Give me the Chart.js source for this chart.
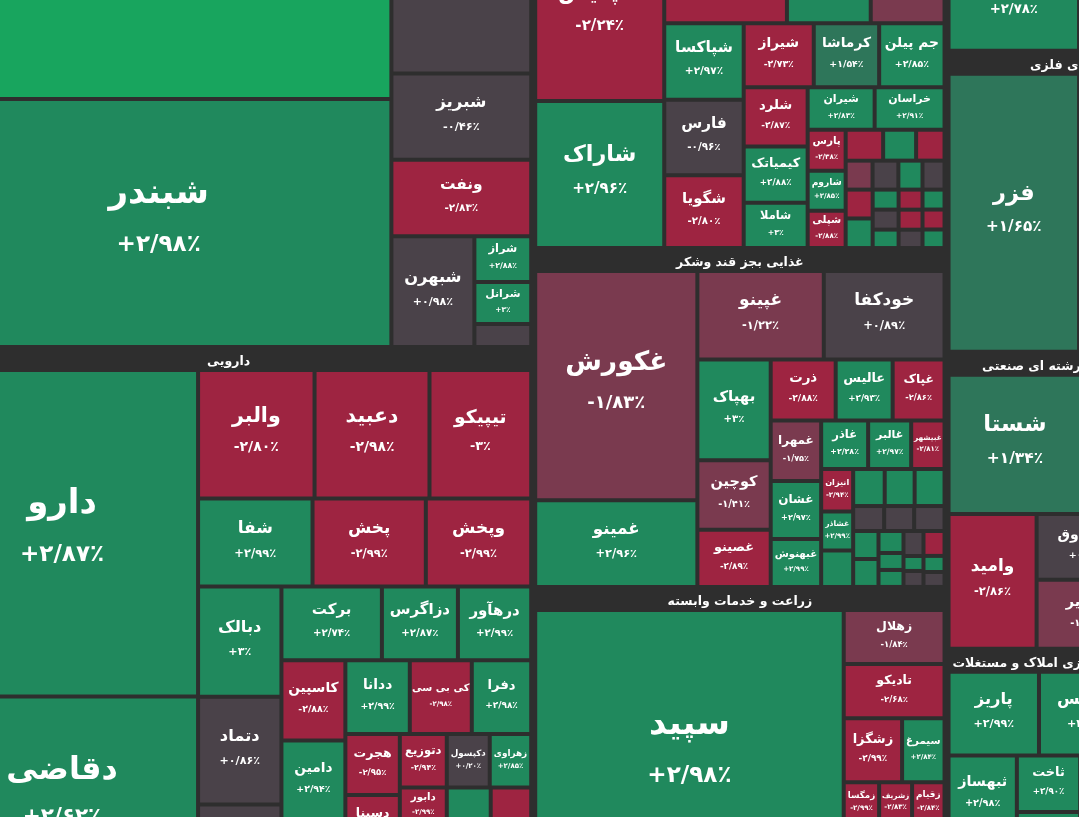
<!DOCTYPE html>
<html lang="fa">
<head>
<meta charset="utf-8">
<title>نقشه بازار</title>
<script src="https://cdn.jsdelivr.net/npm/chart.js@4.4.1/dist/chart.umd.min.js"></script>
<style>
  html, body { margin: 0; padding: 0; background: #2e2e2e; overflow: hidden; }
  #box { position: relative; width: 1079px; height: 817px; }
</style>
</head>
<body>
<div id="box"><canvas id="map"></canvas></div>
<script>
// tile data per industry: name, daily change (%), size of the tile (market value)
// null name = ticker not readable / outside the visible window

// فرآورده های نفتی
const refineryNames  = [null, 'شبندر', null, 'شبریز', 'ونفت', 'شبهرن', 'شراز', 'شرانل', null];
const refineryChange = [3.5, 2.98, 0.3, -0.46, -2.83, 0.98, 2.88, 3, 0.4];
const refineryValue  = [1435, 1156, 395.5, 121, 107, 92, 26, 24, 13];

// دارویی
const pharmaNames  = ['دارو', 'دقاضی', 'والبر', 'دعبید', 'تیپیکو', 'شفا', 'پخش', 'وپخش', 'دبالک', 'دتماد', null,
  'برکت', 'دزاگرس', 'درهآور', 'کاسپین', 'دامین', null, 'ددانا', 'کی بی سی', 'دفرا', 'هجرت', 'دسینا', null,
  'دتوزیع', 'دابور', null, 'دکپسول', 'زهراوی', null, null];
const pharmaChange = [2.87, 2.62, -2.80, -2.98, -3, 2.99, -2.99, -2.99, 3, 0.86, 0.5,
  2.74, 2.87, 2.99, -2.88, 2.94, 2.9, 2.99, -2.98, 2.98, -2.95, -2.9, -2.9,
  -2.94, -2.99, -2.9, 0.20, 2.85, 2.9, -2.9];
const pharmaValue  = [890, 549, 150, 148, 131, 101, 100, 93, 92, 90, 78,
  74, 56, 54, 51.5, 50.9, 49.9, 47.7, 45.9, 44, 33.2, 32.2, 24,
  25.1, 17.2, 34.8, 23, 22.2, 48.6, 44.8];

// محصولات شیمیایی
const chemNames  = ['شپدیس', 'شاراک', null, null, null, 'شپاکسا', 'فارس', 'شگویا', 'شیراز', 'کرماشا', 'جم پیلن',
  'شلرد', 'کیمیاتک', 'شاملا', 'شیران', 'خراسان', 'پارس', 'شاروم', 'شپلی',
  null, null, null, null, null, null, null, null, null, null, null, null, null, null, null, null, null, null];
const chemChange = [-2.24, 2.96, -2.9, 2.9, -1.5, 2.97, -0.96, -2.80, -2.73, 1.54, 2.85,
  -2.87, 2.88, 3, 2.83, 2.91, -2.38, 2.85, -2.88,
  -2.9, 2.9, -2.9, -1.5, 0.4, 2.9, -0.3, -2.9, 2.9, 2.9, 0.3, 2.9, -2.9, -2.9, 0.5, 2.9, -2.9, 2.9];
const chemValue  = [230, 190, 123, 84, 74, 61, 60, 58, 45, 42, 42,
  38, 36, 29, 28.5, 29.75, 15.6, 15.2, 14.25,
  11.6, 10.2, 8.8, 7.8, 7.5, 7.0, 6.4, 7.8, 8.0, 5.2, 5.2, 4.8, 4.8, 4.8, 4.4, 4.4, 4.4, 4.1];

// غذایی بجز قند وشکر
const foodNames  = ['غکورش', 'غمینو', 'غپینو', 'خودکفا', 'بهپاک', 'کوچین', 'غصینو', 'ذرت', 'عالیس', 'غپاک',
  'غمهرا', 'غشان', 'غبهنوش', 'غاذر', 'غالبر', 'غبیشهر', 'انیزان', 'غشاذر', null,
  null, null, null, null, null, null, null, null, null, null, null, null, null, null, null, null, null];
const foodChange = [-1.83, 2.96, -1.22, 0.89, 3, -1.41, -2.89, -2.88, 2.93, -2.86,
  -1.75, 2.97, 2.99, 2.28, 2.97, -2.81, -2.94, 2.99, 2.9,
  2.9, 2.9, 2.9, 0.4, 0.3, 0.5, 2.9, 2.9, 2.9, 2.9, 2.9, 0.4, 2.9, 0.3, -2.9, 2.9, 0.4];
const foodValue  = [372, 141, 112, 107, 74, 51, 42, 39.7, 34.8, 31.7,
  30.6, 29.3, 24.2, 22.8, 20.9, 16.2, 13.6, 12.5, 11.7,
  11.7, 11.1, 11.1, 7.75, 7.5, 7.6, 7.1, 7.1, 5.5, 4.25, 4.25, 5, 3, 3.2, 5.25, 3.4, 3.15];

// زراعت و خدمات وابسته
const agriNames  = ['سپید', 'زهلال', 'تادیکو', 'زشگزا', 'سیمرغ', 'زمگسا', 'زشریف', 'زقیام', null, null];
const agriChange = [2.98, -1.84, -2.68, -2.99, 2.84, -2.99, -2.83, -2.84, 0.5, 0.5];
const agriValue  = [890, 54.5, 55, 37.4, 27.2, 14.4, 13.4, 13.2, 37.9, 37.9];

// right hand column
const steelNames  = ['فملی', null];
const steelChange = [2.78, 2.5];
const steelValue  = [140, 192];
const oreNames  = ['فزر', null];
const oreChange = [1.65, 2.0];
const oreValue  = [361, 495];
const multiNames  = ['شستا', null, 'وامید', 'وصندوق', 'ومدیر'];
const multiChange = [1.34, 0.5, -2.86, 0.52, -1.06];
const multiValue  = [184, 75, 118, 64.5, 68];
const estateNames  = ['پاریز', 'ثپردیس', 'ثبهساز', null, 'ثاخت', null, null];
const estateChange = [2.99, 2.91, 2.98, 2.9, 2.90, 2.9, 2.9];
const estateValue  = [75.2, 80.2, 52.7, 44.2, 35.6, 54.2, 78.4];

// groups above / right of the visible window
const offNames = [null];
const offChange = [0.5];
const autoValue = [447];
const rightTopValue = [397];
const bankValue = [323];
const cementValue = [267];

// how the tiles of each group are split ('h' = side by side, 'v' = stacked)
const refinery = { title: 'فرآورده های نفتی، کک و سوخت هسته ای', names: refineryNames, change: refineryChange, value: refineryValue,
  tree: {d:'h', c:[{d:'v', c:[0, 1]}, {d:'v', c:[2, 3, 4, {d:'h', c:[5, {d:'v', c:[6, 7, 8]}]}]}]} };
const pharma = { title: 'دارویی', names: pharmaNames, change: pharmaChange, value: pharmaValue,
  tree: {d:'h', c:[
    {d:'v', c:[0, 1]},
    {d:'v', c:[
      {d:'h', c:[2, 3, 4]},
      {d:'h', c:[5, 6, 7]},
      {d:'h', c:[
        {d:'v', c:[8, 9, 10]},
        {d:'v', c:[
          {d:'h', c:[11, 12, 13]},
          {d:'h', c:[
            {d:'v', c:[14, 15, 16]},
            {d:'v', c:[
              {d:'h', c:[17, 18, 19]},
              {d:'h', c:[{d:'v', c:[20, 21, 22]}, {d:'v', c:[23, 24, 25]}, {d:'v', c:[{d:'h', c:[26, 27]}, {d:'h', c:[28, 29]}]}]}
            ]}
          ]}
        ]}
      ]}
    ]}
  ]} };
const chem = { title: 'محصولات شیمیایی', names: chemNames, change: chemChange, value: chemValue,
  tree: {d:'h', c:[
    {d:'v', c:[0, 1]},
    {d:'v', c:[
      {d:'h', c:[2, 3, 4]},
      {d:'h', c:[
        {d:'v', c:[5, 6, 7]},
        {d:'v', c:[
          {d:'h', c:[8, 9, 10]},
          {d:'h', c:[
            {d:'v', c:[11, 12, 13]},
            {d:'v', c:[
              {d:'h', c:[14, 15]},
              {d:'h', c:[
                {d:'v', c:[16, 17, 18]},
                {d:'v', c:[
                  {d:'h', c:[19, 20, 21]},
                  {d:'h', c:[22, 23, 24, 25]},
                  {d:'h', c:[{d:'v', c:[26, 27]}, {d:'v', c:[28, 29, 30]}, {d:'v', c:[31, 32, 33]}, {d:'v', c:[34, 35, 36]}]}
                ]}
              ]}
            ]}
          ]}
        ]}
      ]}
    ]}
  ]} };
const food = { title: 'غذایی بجز قند وشکر', names: foodNames, change: foodChange, value: foodValue,
  tree: {d:'h', c:[
    {d:'v', c:[0, 1]},
    {d:'v', c:[
      {d:'h', c:[2, 3]},
      {d:'h', c:[
        {d:'v', c:[4, 5, 6]},
        {d:'v', c:[
          {d:'h', c:[7, 8, 9]},
          {d:'h', c:[
            {d:'v', c:[10, 11, 12]},
            {d:'v', c:[
              {d:'h', c:[13, 14, 15]},
              {d:'h', c:[
                {d:'v', c:[16, 17, 18]},
                {d:'v', c:[
                  {d:'h', c:[19, 20, 21]},
                  {d:'h', c:[22, 23, 24]},
                  {d:'h', c:[{d:'v', c:[25, 26]}, {d:'v', c:[27, 28, 29]}, {d:'v', c:[30, 31, 32]}, {d:'v', c:[33, 34, 35]}]}
                ]}
              ]}
            ]}
          ]}
        ]}
      ]}
    ]}
  ]} };
const agri = { title: 'زراعت و خدمات وابسته', names: agriNames, change: agriChange, value: agriValue,
  tree: {d:'h', c:[0, {d:'v', c:[1, 2, {d:'h', c:[3, 4]}, {d:'h', c:[5, 6, 7]}, {d:'h', c:[8, 9]}]}]} };
const steel = { title: 'فلزات اساسی', names: steelNames, change: steelChange, value: steelValue, tree: {d:'h', c:[0, 1]} };
const ore = { title: 'استخراج کانه های فلزی', names: oreNames, change: oreChange, value: oreValue, tree: {d:'h', c:[0, 1]} };
const multi = { title: 'چندرشته ای صنعتی', names: multiNames, change: multiChange, value: multiValue,
  tree: {d:'v', c:[{d:'h', c:[0, 1]}, {d:'h', c:[2, {d:'v', c:[3, 4]}]}]} };
const estate = { title: 'انبوه سازی املاک و مستغلات', names: estateNames, change: estateChange, value: estateValue,
  tree: {d:'v', c:[{d:'h', c:[0, 1]}, {d:'h', c:[{d:'v', c:[2, 3]}, {d:'v', c:[4, 5]}, 6]}]} };
const autoGroup = { title: 'خودرو و ساخت قطعات', names: offNames, change: offChange, value: autoValue, tree: 0 };
const rightTop = { title: 'فلزات', names: offNames, change: offChange, value: rightTopValue, tree: 0 };
const banks = { title: 'بانکها و موسسات اعتباری', names: offNames, change: offChange, value: bankValue, tree: 0 };
const cement = { title: 'سیمان، آهک و گچ', names: offNames, change: offChange, value: cementValue, tree: 0 };

const mapLayout = {d:'h', c:[
  {d:'v', c:[refinery, pharma]},
  {d:'v', c:[autoGroup, chem, food, agri]},
  {d:'v', c:[rightTop, steel, ore, {d:'h', c:[{d:'v', c:[multi, estate]}, {d:'v', c:[banks, cement]}]}]}
]};

// the picture is a zoomed part of the whole market map
const mapBox = { x0: -76, y0: -230, x1: 1260, y1: 900 };
const HDR = 21, PAD = 2, GAP = 2;

function build(spec, sec) {
  if (typeof spec === 'number') return { kind: 'leaf', name: sec.names[spec], change: sec.change[spec], value: sec.value[spec] };
  if (spec.tree !== undefined) return { kind: 'sector', title: spec.title, body: build(spec.tree, spec) };
  return { kind: 'group', d: spec.d, c: spec.c.map(s => build(s, sec)) };
}

// total value plus the room taken by group headers / padding
function measure(n) {
  if (n.kind === 'leaf') { n.S = n.value; n.ph = 0; n.pw = 0; return; }
  if (n.kind === 'sector') {
    measure(n.body);
    n.S = n.body.S; n.ph = HDR + PAD + n.body.ph; n.pw = 2 * PAD + n.body.pw;
    return;
  }
  n.c.forEach(measure);
  n.S = n.c.reduce((s, k) => s + k.S, 0);
  if (n.d === 'v') { n.ph = n.c.reduce((s, k) => s + k.ph, 0); n.pw = Math.max(...n.c.map(k => k.pw)); }
  else { n.ph = Math.max(...n.c.map(k => k.ph)); n.pw = n.c.reduce((s, k) => s + k.pw, 0); }
}

function place(n, x0, y0, x1, y1, cells, bands) {
  if (n.kind === 'leaf') {
    cells.push({ name: n.name, change: n.change, value: n.value, x0: x0 + GAP, x1: x1 - GAP, y0: y0 + GAP, y1: y1 - GAP });
    return;
  }
  if (n.kind === 'sector') {
    bands.push({ title: n.title, x0: x0 + PAD, x1: x1 - PAD, y0: y0 + PAD, y1: y0 + HDR });
    place(n.body, x0 + PAD, y0 + HDR, x1 - PAD, y1 - PAD, cells, bands);
    return;
  }
  const horiz = n.d === 'h';
  const W = x1 - x0, H = y1 - y0;
  const wts = n.c.map(k => k.S / (horiz ? H - k.ph : W - k.pw));
  const tot = wts.reduce((a, b) => a + b, 0);
  const free = (horiz ? W : H) - n.c.reduce((s, k) => s + (horiz ? k.pw : k.ph), 0);
  let pos = horiz ? x0 : y0;
  n.c.forEach((k, i) => {
    const len = (horiz ? k.pw : k.ph) + free * wts[i] / tot;
    if (horiz) place(k, pos, y0, pos + len, y1, cells, bands);
    else place(k, x0, pos, x1, pos + len, cells, bands);
    pos += len;
  });
}

function tileColor(p) {
  const a = Math.abs(p);
  if (p > 3) return '#18a55e';
  if (a < 1) return '#4a4249';
  if (a < 2) return p > 0 ? '#2e765a' : '#7a3a4f';
  return p > 0 ? '#20895d' : '#9e2441';
}

function faNum(s) { return s.replace(/\d/g, d => '۰۱۲۳۴۵۶۷۸۹'[d]); }
function pctText(p) {
  const a = Math.abs(p);
  const s = Number.isInteger(a) ? String(a) : a.toFixed(2);
  return (p > 0 ? '+' : p < 0 ? '-' : '') + faNum(s).replace('.', '/') + '٪';
}

const root = build(mapLayout, null);
measure(root);
const cells = [], bands = [];
place(root, mapBox.x0, mapBox.y0, mapBox.x1, mapBox.y1, cells, bands);

// tiles drawn as bar elements; position comes from the x / y scales
class TreeController extends Chart.BarController {
  updateElements(rects, start, count, mode) {
    const meta = this._cachedMeta;
    const xs = meta.xScale, ys = meta.yScale;
    const data = this.getDataset().data;
    for (let i = start; i < start + count; i++) {
      const c = data[i];
      const left = xs.getPixelForValue(c.x0), right = xs.getPixelForValue(c.x1);
      const top = ys.getPixelForValue(c.y0), bottom = ys.getPixelForValue(c.y1);
      this.updateElement(rects[i], i, {
        x: (left + right) / 2, y: top, base: bottom,
        width: right - left, height: bottom - top, horizontal: false,
        borderSkipped: {}, inflateAmount: 0,
        options: this.resolveDataElementOptions(i, mode)
      }, mode);
    }
  }
}
TreeController.id = 'treemapbar';
TreeController.overrides = {};
Chart.register(TreeController);

const FONT = '"DejaVu Sans", sans-serif';

const tileLabels = {
  id: 'tileLabels',
  afterDatasetsDraw(chart) {
    const ctx = chart.ctx;
    ctx.save();
    ctx.textAlign = 'center';
    ctx.textBaseline = 'middle';
    ctx.fillStyle = '#ffffff';
    // group headers
    chart.getDatasetMeta(0).data.forEach((el, i) => {
      const b = chart.data.datasets[0].data[i];
      if (!b.title) return;
      const left = el.x - el.width / 2;
      ctx.save();
      ctx.beginPath(); ctx.rect(left, el.y, el.width, el.base - el.y); ctx.clip();
      ctx.font = 'bold 12.5px ' + FONT;
      ctx.direction = 'rtl';
      ctx.fillText(b.title, el.x, (el.y + el.base) / 2 + 1);
      ctx.restore();
    });
    // tile names and changes
    chart.getDatasetMeta(1).data.forEach((el, i) => {
      const c = chart.data.datasets[1].data[i];
      if (!c.name) return;
      const w = el.width, h = el.base - el.y;
      if (w < 22 || h < 28) return;
      const left = el.x - w / 2, cy = el.y + h / 2;
      let f = Math.min(34, 0.13 * Math.min(w, h) + 6);
      ctx.save();
      ctx.beginPath(); ctx.rect(left, el.y, w, h); ctx.clip();
      ctx.font = 'bold ' + f + 'px ' + FONT;
      ctx.direction = 'rtl';
      const tw = ctx.measureText(c.name).width;
      if (tw > w - 4) {
        f *= Math.max(0.75, (w - 4) / tw);
        ctx.font = 'bold ' + f + 'px ' + FONT;
      }
      ctx.fillText(c.name, el.x, cy - 0.85 * f);
      const pf = Math.max(7, f * 0.68);
      ctx.font = 'bold ' + pf + 'px ' + FONT;
      ctx.direction = 'ltr';
      ctx.fillText(pctText(c.change), el.x, cy + 0.65 * f);
      ctx.restore();
    });
    ctx.restore();
  }
};

new Chart(document.getElementById('map'), {
  type: 'treemapbar',
  data: {
    datasets: [
      { label: 'groups', data: bands.map(b => ({ x: (b.x0 + b.x1) / 2, y: [b.y0, b.y1], ...b })),
        backgroundColor: 'rgba(0,0,0,0)', inflateAmount: 0 },
      { label: 'tiles', data: cells.map(c => ({ x: (c.x0 + c.x1) / 2, y: [c.y0, c.y1], ...c })),
        backgroundColor: cells.map(c => tileColor(c.change)), inflateAmount: 0, borderWidth: 0 }
    ]
  },
  options: {
    responsive: true,
    maintainAspectRatio: false,
    animation: false,
    events: [],
    layout: { padding: 0 },
    plugins: { legend: { display: false }, tooltip: { enabled: false } },
    scales: {
      x: { type: 'linear', min: 0, max: 1079, display: false, offset: false },
      y: { type: 'linear', min: 0, max: 817, reverse: true, display: false, offset: false }
    }
  },
  plugins: [tileLabels]
});
</script>
</body>
</html>
